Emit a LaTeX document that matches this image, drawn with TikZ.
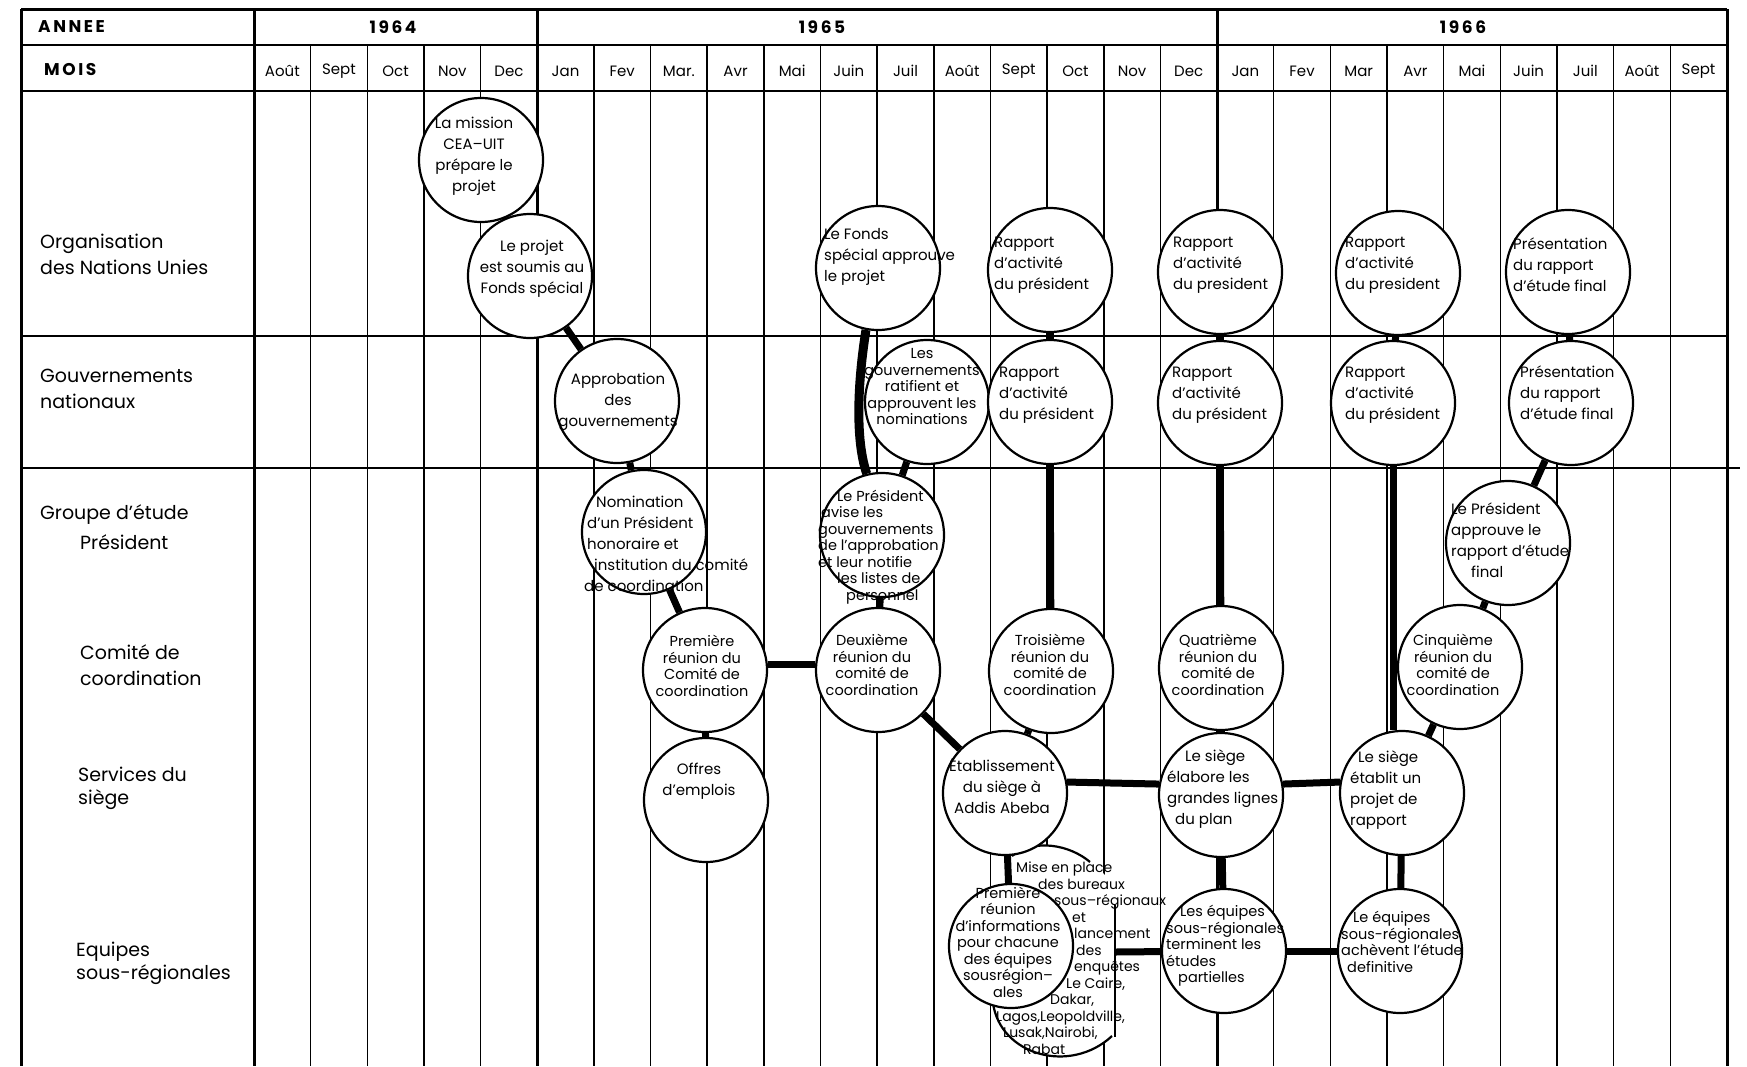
\documentclass[tikz,border=0pt]{standalone}
\usepackage{fontspec}
\setmainfont{Poppins}
\newfontfamily\yearfont{Poppins}[LetterSpace=15]
\usetikzlibrary{positioning}

\begin{document}
\begin{tikzpicture}[x=1pt, y=-1pt]
		\tikzstyle{Grid} = [line width=1.5pt, black]
		\tikzstyle{Year} = [line width=3pt, black]
		\tikzstyle{Event} = [circle, minimum size=124pt, inner sep=0pt, line width=2.2pt, draw=black, fill=white]
		\tikzstyle{Txt} = [align=center, inner sep=0pt, font=\fontsize{15}{21}\selectfont]
		\tikzstyle{TxtL} = [align=left, anchor=west, inner sep=0pt, font=\fontsize{15}{21}\selectfont]
		\tikzstyle{Tight} = [font=\fontsize{14.5}{16.5}\selectfont]
		\tikzstyle{Row} = [align=left, anchor=west, inner sep=0pt, font=\fontsize{19}{26}\selectfont]
		\tikzstyle{Month} = [inner sep=0pt, font=\fontsize{15}{15}\selectfont]
		\tikzstyle{Head} = [inner sep=0pt, font=\yearfont\bfseries\fontsize{17}{17}\selectfont]
		\tikzstyle{Link} = [line width=7pt, black]

		\useasboundingbox (0,0) rectangle (1747,1066);

		% tableau
		\draw [Year] (21,9) -- (1727,9);
		\draw [Grid] (21,45) -- (1727,45);
		\draw [Grid] (21,91) -- (1727,91);
		\draw [Grid] (21,336) -- (1727,336);
		\draw [Grid] (21,468) -- (1740,468);
		\draw [Year] (21,9) -- (21,1066);
		\draw [Year] (254,9) -- (254,1066);
		\draw [Year] (1727,9) -- (1727,1066);
		\foreach \m in {1,...,25}
			\draw [Grid] ({254+56.65*\m},45) -- ({254+56.65*\m},1066);
		\draw [Year] (537.25,9) -- (537.25,1066);
		\draw [Year] (1217,9) -- (1217,1066);

		\node (annee) [Head, anchor=west] at (38,27) {ANNEE};
		\node (mois) [Head, anchor=west] at (44,70) {MOIS};
		\node (y64) [Head] at (393,27) {1964};
		\node (y65) [Head] at (822,27) {1965};
		\node (y66) [Head] at (1463,27) {1966};
		\foreach \mo [count=\i] in {Août,Sept,Oct,Nov,Dec,Jan,Fev,Mar.,Avr,Mai,Juin,Juil,Août,Sept,Oct,Nov,Dec,Jan,Fev,Mar,Avr,Mai,Juin,Juil,Août,Sept}
			\node (m\i) [Month] at ({254+56.65*(\i-0.5)},71) {\mo};

		\node (onu) [Row] at (40,254) {Organisation\\des Nations Unies};
		\node (gouv) [Row] at (40,389) {Gouvernements\\nationaux};
		\node (groupe) [Row, font=\fontsize{19}{30}\selectfont] at (40,527) {Groupe d'étude\\\hspace*{40pt}Président};
		\node (comite) [Row] at (80,665) {Comité de\\coordination};
		\node (siege) [Row, font=\fontsize{19}{23}\selectfont] at (78,788) {Services du\\siège};
		\node (equipes) [Row, font=\fontsize{19}{23}\selectfont] at (76,963) {Equipes\\sous-régionales};

		% zone des bureaux sous-regionaux
		\fill [white] (1012,856) .. controls (1035,838) and (1070,845) .. (1090,862) .. controls (1140,895) and (1150,995) .. (1112,1036) .. controls (1070,1075) and (1000,1055) .. (993,1003) -- cycle;
		\draw [line width=2.2pt] (1012,856) .. controls (1035,838) and (1070,845) .. (1090,862);
		\draw [line width=2.2pt] (993,1003) .. controls (1000,1055) and (1070,1075) .. (1112,1036);

		% Organisation des Nations Unies
		\node (cea) [Event] at (481,160) {};
		\node (soumis) [Event] at (530,276) {};
		\node (fonds) [Event] at (878,268) {};
		\node (rapa) [Event] at (1050,270) {};
		\node (rapb) [Event] at (1220,272) {};
		\node (rapc) [Event] at (1398,273) {};
		\node (fina) [Event] at (1568,272) {};
		% Gouvernements nationaux
		\node (approb) [Event] at (617,401) {};
		\node (ratif) [Event] at (927,402) {};
		\node (rapd) [Event] at (1050,402) {};
		\node (rape) [Event] at (1220,403) {};
		\node (rapf) [Event] at (1393,403) {};
		\node (finb) [Event] at (1571,403) {};
		% Groupe d'etude
		\node (nomin) [Event] at (644,532) {};
		\node (avise) [Event] at (882,535) {};
		\node (approuve) [Event] at (1508,543) {};
		% Comite de coordination
		\node (reun1) [Event] at (705,670) {};
		\node (reun2) [Event] at (878,670) {};
		\node (reun3) [Event] at (1051,671) {};
		\node (reun4) [Event] at (1221,668) {};
		\node (reun5) [Event] at (1460,667) {};
		% Services du siege
		\node (offres) [Event] at (706,800) {};
		\node (etab) [Event] at (1005,793) {};
		\node (elabore) [Event] at (1221,795) {};
		\node (etablit) [Event] at (1402,793) {};
		% Equipes sous-regionales
		\node (infos) [Event] at (1011,946) {};
		\node (partielles) [Event] at (1224,951) {};
		\node (achevent) [Event] at (1400,951) {};

		% liaisons
		\draw [Link] (cea) -- (soumis);
		\draw [Link] (soumis) -- (approb);
		\draw [Link] (approb) -- (nomin);
		\draw [Link] (nomin) -- (reun1);
		\draw [Link] (reun1) -- (offres);
		\draw [Link] (reun1.5) -- (reun2.175);
		\draw [Link] (reun2) -- (etab);
		\draw [Link] (reun3) -- (etab);
		\draw [Link] (etab) -- (infos);
		\draw [Link] (etab.10) -- (elabore.170);
		\draw [Link] (elabore.10) -- (etablit.170);
		\draw [Link] (reun4) -- (elabore);
		\draw [Link] (reun5) -- (etablit);
		\draw [Link] (elabore) -- (partielles);
		\draw [Link] (etablit) -- (achevent);
		\draw [Link] (partielles) -- (achevent);
		\draw [Link] (rapa) -- (rapd);
		\draw [Link] (rapb) -- (rape);
		\draw [Link] (rapc) -- (rapf);
		\draw [Link] (fina) -- (finb);
		\draw [Link] (rapd) -- (reun3);
		\draw [Link] (rape) -- (reun4);
		\draw [Link] (rapf.south) -- (rapf.south |- etablit.north);
		\draw [Link] (finb) -- (approuve);
		\draw [Link] (approuve) -- (reun5);
		\draw [Link] (ratif) -- (avise);
		\draw [Link] (avise) -- (reun2);
		\draw [Link, line width=9pt] (fonds.259) .. controls +(-8,50) and +(-12,-35) .. (avise.104);
		\coordinate (brk) at (1115,952);
		\draw [Grid] (1115,905) -- (1115,1037);
		\draw [Link] (brk) -- (partielles);

		% textes
		\node (tcea) [Txt] at (474,156) {La mission\\CEA–UIT\\prépare le\\projet};
		\node (tsoumis) [Txt] at (532,269) {Le projet\\est soumis au\\Fonds spécial};
		\node (tfonds) [TxtL] at (824,257) {Le Fonds\\spécial approuve\\le projet};
		\node (trapa) [TxtL] at (994,265) {Rapport\\d'activité\\du président};
		\node (trapb) [TxtL] at (1173,265) {Rapport\\d'activité\\du president};
		\node (trapc) [TxtL] at (1345,265) {Rapport\\d'activité\\du president};
		\node (tfina) [TxtL] at (1513,265) {Présentation\\du rapport\\d'étude final};
		\node (tapprob) [Txt] at (618,402) {Approbation\\des\\gouvernements};
		\node (tratif) [Txt, Tight] at (922,387) {Les\\gouvernements\\ratifient et\\approuvent les\\nominations};
		\node (trapd) [TxtL] at (999,395) {Rapport\\d'activité\\du président};
		\node (trape) [TxtL] at (1172,395) {Rapport\\d'activité\\du président};
		\node (trapf) [TxtL] at (1345,395) {Rapport\\d'activité\\du président};
		\node (tfinb) [TxtL] at (1520,393) {Présentation\\du rapport\\d'étude final};
		\node (tnomin) [TxtL] at (584,544) {\hspace*{12pt}Nomination\\\hspace*{3pt}d'un Président\\\hspace*{3pt}honoraire et\\\hspace*{10pt}institution du comité\\de coordination};
		\node (tavise) [TxtL, Tight] at (818,547) {\hspace*{19pt}Le Président\\\hspace*{3pt}avise les\\gouvernements\\de l'approbation\\et leur notifie\\\hspace*{19pt}les listes de\\\hspace*{28pt}personnel};
		\node (tapprouve) [TxtL] at (1451,540) {Le Président\\approuve le\\rapport d'étude\\\hspace*{20pt}final};
		\node (treun1) [Txt, Tight] at (702,666) {Première\\réunion du\\Comité de\\coordination};
		\node (treun2) [Txt, Tight] at (872,665) {Deuxième\\réunion du\\comité de\\coordination};
		\node (treun3) [Txt, Tight] at (1050,665) {Troisième\\réunion du\\comité de\\coordination};
		\node (treun4) [Txt, Tight] at (1218,665) {Quatrième\\réunion du\\comité de\\coordination};
		\node (treun5) [Txt, Tight] at (1453,665) {Cinquième\\réunion du\\comité de\\coordination};
		\node (toffres) [Txt] at (699,781) {Offres\\d'emplois};
		\node (tetab) [Txt] at (1002,786) {Établissement\\du siège à\\Addis Abeba};
		\node (telabore) [TxtL] at (1167,789) {\hspace*{18pt}Le siège\\élabore les\\grandes lignes\\\hspace*{8pt}du plan};
		\node (tetablit) [TxtL] at (1350,790) {\hspace*{8pt}Le siège\\établit un\\projet de\\rapport};
		\node (tinfos) [Txt, Tight] at (1008,942) {Première\\réunion\\d'informations\\pour chacune\\des équipes\\sousrégion–\\ales};
		\node (tmise) [align=left, anchor=north west, inner sep=0pt, font=\fontsize{14}{16.5}\selectfont] at (996,862) {\hspace*{20pt}Mise en place\\\hspace*{42pt}des bureaux\\\hspace*{58pt}sous–régionaux\\\hspace*{76pt}et\\\hspace*{78pt}lancement\\\hspace*{80pt}des\\\hspace*{78pt}enquêtes\\\hspace*{70pt}Le Caire,\\\hspace*{54pt}Dakar,\\Lagos,Leopoldville,\\\hspace*{7pt}Lusak,Nairobi,\\\hspace*{27pt}Rabat};
		\node (tpartielles) [TxtL, Tight] at (1166,946) {\hspace*{14pt}Les équipes\\sous-régionales\\terminent les\\études\\\hspace*{12pt}partielles};
		\node (tachevent) [TxtL, Tight] at (1341,942) {\hspace*{12pt}Le équipes\\sous-régionales\\achèvent l'étude\\\hspace*{6pt}definitive};
\end{tikzpicture}
\end{document}
